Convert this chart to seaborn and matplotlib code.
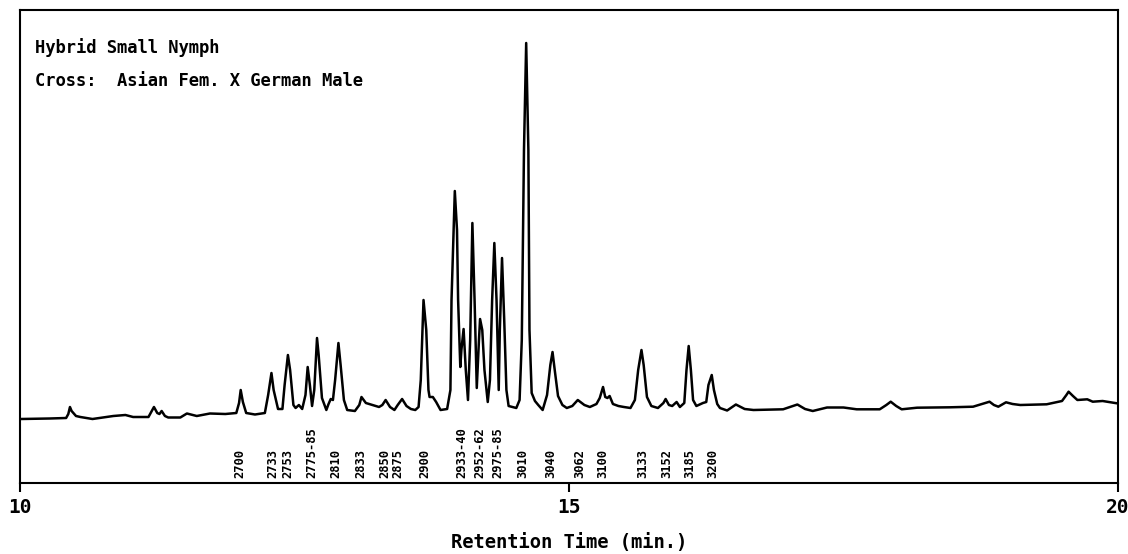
import numpy as np
import pandas as pd
import matplotlib
matplotlib.use("Agg")
import matplotlib.pyplot as plt
import seaborn as sns

# chromatogram trace: retention time (min) and detector response (arb.)
time_min = [10.01, 10.27, 10.42, 10.44, 10.455, 10.47, 10.51, 10.55, 10.66, 10.85,
            10.96, 11.03, 11.17, 11.19, 11.22, 11.25, 11.27, 11.29, 11.32, 11.35,
            11.46, 11.52, 11.61, 11.73, 11.87, 11.97, 11.995, 12.01, 12.03, 12.06,
            12.14, 12.23, 12.26, 12.29, 12.31, 12.35, 12.39, 12.41, 12.44, 12.46,
            12.49, 12.51, 12.54, 12.57, 12.60, 12.62, 12.64, 12.66, 12.68, 12.705,
            12.72, 12.75, 12.79, 12.81, 12.83, 12.85, 12.87, 12.90, 12.92, 12.95,
            12.98, 13.05, 13.09, 13.11, 13.15, 13.21, 13.27, 13.30, 13.33, 13.37,
            13.41, 13.44, 13.48, 13.52, 13.56, 13.60, 13.63, 13.65, 13.675, 13.70,
            13.72, 13.73, 13.76, 13.79, 13.83, 13.89, 13.92, 13.93, 13.96, 13.98,
            13.99, 14.01, 14.02, 14.04, 14.06, 14.08, 14.10, 14.12, 14.14, 14.16,
            14.18, 14.19, 14.21, 14.23, 14.26, 14.28, 14.30, 14.32, 14.34, 14.36,
            14.37, 14.39, 14.41, 14.43, 14.45, 14.52, 14.55, 14.57, 14.59, 14.61,
            14.63, 14.64, 14.66, 14.69, 14.72, 14.76, 14.80, 14.83, 14.85, 14.87,
            14.90, 14.94, 14.98, 15.03, 15.08, 15.14, 15.19, 15.25, 15.28, 15.31,
            15.33, 15.35, 15.37, 15.40, 15.45, 15.50, 15.56, 15.60, 15.63, 15.66,
            15.68, 15.71, 15.75, 15.81, 15.86, 15.88, 15.91, 15.94, 15.98, 16.01,
            16.05, 16.07, 16.09, 16.11, 16.13, 16.16, 16.22, 16.25, 16.27, 16.30,
            16.32, 16.35, 16.375, 16.44, 16.52, 16.60, 16.68, 16.95, 17.08, 17.15,
            17.22, 17.35, 17.50, 17.62, 17.83, 17.89, 17.93, 17.98, 18.03, 18.17,
            18.47, 18.68, 18.76, 18.83, 18.87, 18.91, 18.98, 19.04, 19.11, 19.35,
            19.49, 19.53, 19.55, 19.59, 19.63, 19.72, 19.77, 19.86, 19.99]
response = [64, 64.5, 65, 69, 76, 72, 67, 66, 64, 67,
            68, 66, 66, 70, 76, 70, 69, 72, 67, 65.5,
            65.5, 69.5, 67, 69.5, 69, 70, 80, 93, 81, 70,
            68.5, 70, 88, 110, 93, 74, 74, 98, 128, 113,
            78, 75, 78, 74, 88, 116, 98, 77, 93, 145,
            128, 85, 73, 79, 84, 83, 103, 140, 118, 83,
            73, 72, 78, 86, 80, 78, 76, 78, 83, 76,
            73, 78, 84, 77, 74, 73, 76, 103, 183, 153,
            93, 86, 86, 81, 73, 74, 93, 183, 292, 253,
            183, 116, 133, 154, 113, 83, 143, 260, 183, 95,
            143, 164, 153, 113, 81, 103, 183, 240, 183, 93,
            153, 225, 163, 93, 77, 75, 83, 143, 333, 440,
            333, 153, 90, 82, 78, 73, 88, 118, 131, 113,
            87, 78, 75, 77, 83, 78, 76, 79, 85, 96,
            86, 85, 87, 79, 77, 76, 75, 83, 113, 133,
            118, 86, 77, 75, 80, 84, 78, 77, 81, 76,
            80, 113, 137, 113, 83, 77, 80, 81, 98, 108,
            93, 79, 75, 72.5, 78.5, 74, 73, 73.7, 78.5, 74,
            72, 75.5, 75.5, 73.7, 73.7, 78, 81.3, 77, 73.7, 75.3,
            75.7, 76.3, 79, 81.3, 78, 76.3, 80.7, 79, 78, 78.7,
            82, 88, 91.3, 87, 83, 83.7, 81.3, 82, 79.7]

# peak annotations (retention index) and where they sit on the time axis
peak_labels = ["2700", "2733", "2753", "2775-85", "2810", "2833", "2850", "2875",
               "2900", "2933-40", "2952-62", "2975-85", "3010", "3040", "3062",
               "3100", "3133", "3152", "3185", "3200"]
peak_times = [12.00, 12.30, 12.44, 12.66, 12.88, 13.10, 13.32, 13.44,
              13.69, 14.02, 14.19, 14.35, 14.58, 14.83, 15.10,
              15.31, 15.67, 15.89, 16.10, 16.31]

x_ticks = [10, 15, 20]
title_lines = ["Hybrid Small Nymph", "Cross:  Asian Fem. X German Male"]

df = pd.DataFrame({"time": time_min, "response": response})

sns.set_theme(style="white")
plt.rcParams["font.family"] = ["DejaVu Sans Mono", "DejaVu Sans"]
plt.rcParams["font.weight"] = "bold"

fig = plt.figure(figsize=(11.28, 5.54), dpi=100)
ax = fig.add_axes([20 / 1128, 71 / 554, 1098 / 1128, 473 / 554])

sns.lineplot(data=df, x="time", y="response", ax=ax, color="black",
             linewidth=1.8, estimator=None, sort=False)

ax.set_xlim(10, 20)
ax.set_ylim(0, 473)
ax.set_xticks(x_ticks)
ax.set_xticklabels([str(t) for t in x_ticks], fontsize=14, fontweight="bold")
ax.set_yticks([])
ax.set_ylabel("")
ax.tick_params(axis="x", direction="out", length=6.5, width=1.5, pad=4,
               colors="black", bottom=True)
for s in ax.spines.values():
    s.set_visible(True)
    s.set_color("black")
    s.set_linewidth(1.5)

ax.set_xlabel("Retention Time (min.)", fontsize=13.5, fontweight="bold", color="black")
ax.xaxis.set_label_coords(0.5, -0.105)

for lab, t in zip(peak_labels, peak_times):
    ax.text(t, 5, lab, rotation=90, ha="center", va="bottom",
            fontsize=8.7, fontweight="bold", color="black")

ax.text(0.0137, 0.92, title_lines[0], transform=ax.transAxes, ha="left",
        va="center", fontsize=12.3, fontweight="bold", color="black")
ax.text(0.0137, 0.85, title_lines[1], transform=ax.transAxes, ha="left",
        va="center", fontsize=12.3, fontweight="bold", color="black")

fig.savefig("out.png", dpi=100)
